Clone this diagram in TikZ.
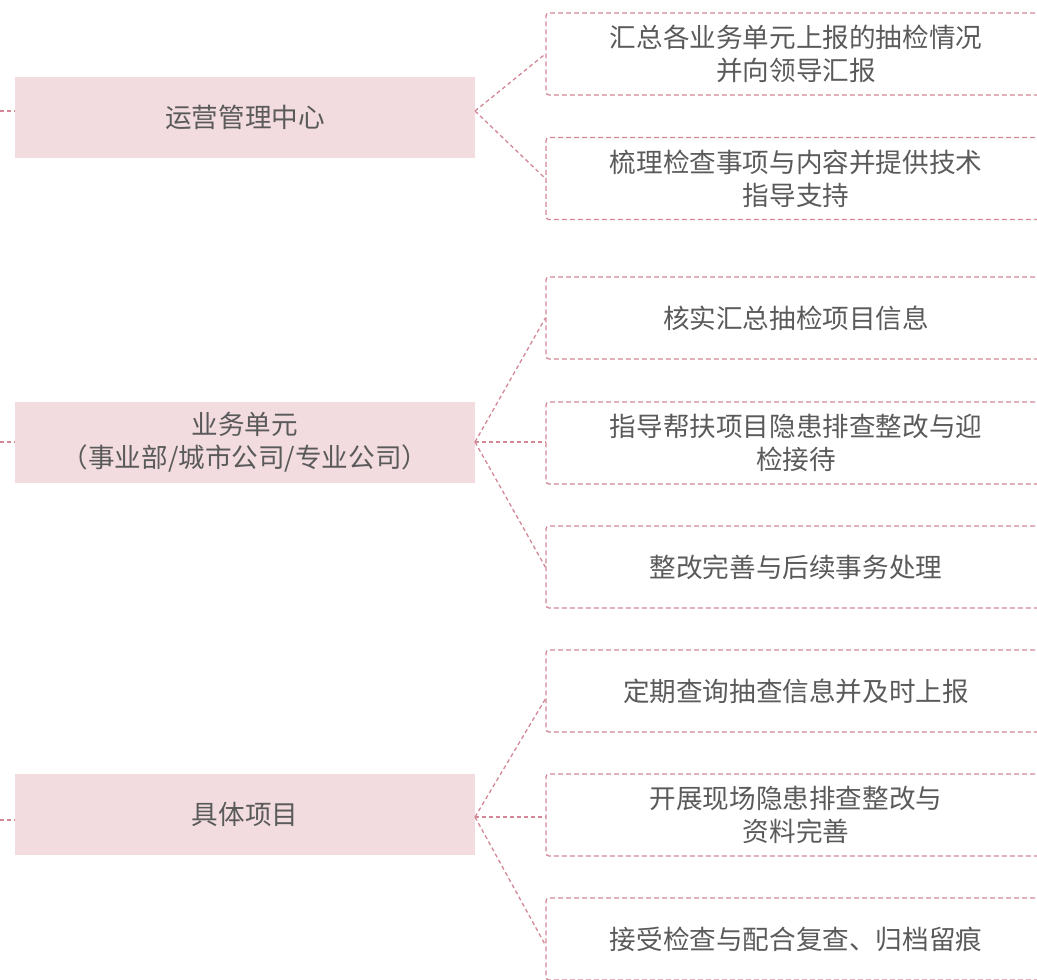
\documentclass[tikz,border=0pt]{standalone}
\usepackage{fontspec}
\setmainfont{Noto Sans CJK SC}
\definecolor{boxfill}{HTML}{F2DCE0}
\definecolor{lnk}{HTML}{D48796}
\definecolor{txt}{HTML}{5A5A5A}
\begin{document}
\begin{tikzpicture}[x=1pt,y=1pt,
  leftbox/.style={fill=boxfill, minimum width=460, minimum height=81, inner sep=0pt,
    text=txt, font=\fontsize{26.6}{33}\selectfont, align=center},
  rightbox/.style={draw=lnk, dash pattern=on 5pt off 3pt, line width=1.3pt, rounded corners=3pt,
    minimum width=500, minimum height=82, inner sep=0pt, text=txt,
    font=\fontsize{26.6}{33}\selectfont, align=center},
  link/.style={draw=lnk, dash pattern=on 4pt off 3pt, line width=1.3pt}]
\useasboundingbox (0,0) rectangle (1037,980);
\clip (0,0) rectangle (1037,980);

% left boxes
\node[leftbox] (L1) at (245,862.5) {运营管理中心};
\node[leftbox] (L2) at (245,537.5) {业务单元\\（事业部/城市公司/专业公司）};
\node[leftbox] (L3) at (245,165.5) {具体项目};

% right boxes
\node[rightbox] (R1) at (796,926) {汇总各业务单元上报的抽检情况\\并向领导汇报};
\node[rightbox] (R2) at (796,801.5) {梳理检查事项与内容并提供技术\\指导支持};
\node[rightbox] (R3) at (796,662) {核实汇总抽检项目信息};
\node[rightbox] (R4) at (796,537) {指导帮扶项目隐患排查整改与迎\\检接待};
\node[rightbox] (R5) at (796,413) {整改完善与后续事务处理};
\node[rightbox] (R6) at (796,289) {定期查询抽查信息并及时上报};
\node[rightbox] (R7) at (796,165) {开展现场隐患排查整改与\\资料完善};
\node[rightbox] (R8) at (796,41) {接受检查与配合复查、归档留痕};

% junctions
\coordinate (J1) at (475,869);
\coordinate (J2) at (475,538);
\coordinate (J3) at (475,163);
\coordinate (P1) at (0,869);
\coordinate (P2) at (0,538);
\coordinate (P3) at (0,160);

\draw[link] (P1) -- (L1.west |- P1);
\draw[link] (P2) -- (L2.west |- P2);
\draw[link] (P3) -- (L3.west |- P3);

\draw[link] (J1) -- (R1.west);
\draw[link] (J1) -- (R2.west);
\draw[link] (J2) -- (R3.west);
\draw[link] (J2) -- (J2 -| R4.west);
\draw[link] (J2) -- (R5.west);
\draw[link] (J3) -- ([yshift=-8pt]R6.west);
\draw[link] (J3) -- (J3 -| R7.west);
\draw[link] (J3) -- ([yshift=-6pt]R8.west);
\end{tikzpicture}
\end{document}
